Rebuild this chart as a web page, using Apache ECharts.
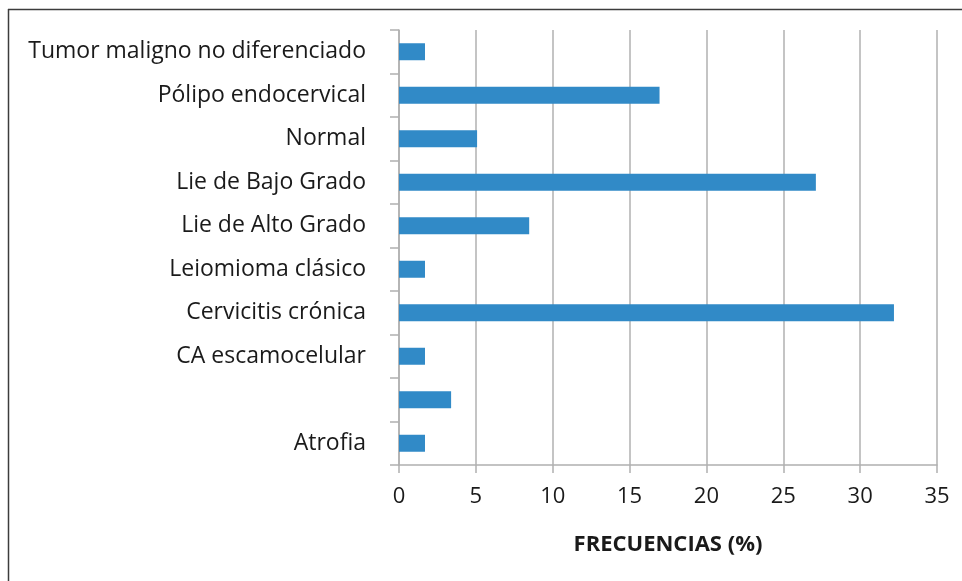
<!DOCTYPE html>
<html>
<head>
<meta charset="utf-8">
<script src="https://cdn.jsdelivr.net/npm/echarts@6/dist/echarts.min.js"></script>
<style>
  html, body { margin: 0; padding: 0; background: #fff; }
  #chart { width: 962px; height: 581px; }
</style>
</head>
<body>
<div id="chart"></div>
<script>
// categorías, de abajo hacia arriba
const categories = [
  'Atrofia',
  '',
  'CA escamocelular',
  'Cervicitis crónica',
  'Leiomioma clásico',
  'Lie de Alto Grado',
  'Lie de Bajo Grado',
  'Normal',
  'Pólipo endocervical',
  'Tumor maligno no diferenciado'
];
// frecuencias en %
const frecuencias = [1.69, 3.39, 1.69, 32.2, 1.69, 8.47, 27.12, 5.08, 16.95, 1.69];
const xTicks = { min: 0, max: 35, interval: 5 };

const chart = echarts.init(document.getElementById('chart'));

const option = {
  animation: false,
  grid: { left: 399, right: 25, top: 30, bottom: 116 },
  // marco del gráfico (arriba e izquierda)
  graphic: [
    { type: 'line', shape: { x1: 8, y1: 9.5, x2: 962, y2: 9.5 }, style: { stroke: '#3c3c3c', lineWidth: 1.5 } },
    { type: 'line', shape: { x1: 8.5, y1: 9, x2: 8.5, y2: 581 }, style: { stroke: '#3c3c3c', lineWidth: 1.5 } }
  ],
  xAxis: {
    type: 'value',
    min: xTicks.min,
    max: xTicks.max,
    interval: xTicks.interval,
    name: 'FRECUENCIAS (%)',
    nameLocation: 'middle',
    nameGap: 69,
    nameTextStyle: { fontFamily: 'Open Sans', fontSize: 22, fontWeight: 'bold', color: '#1a1a1a' },
    axisLine: { show: true, lineStyle: { color: '#b0b0b0', width: 1.5 } },
    axisTick: { show: true, length: 8, lineStyle: { color: '#b0b0b0', width: 1.5 } },
    axisLabel: { fontFamily: 'Open Sans', fontSize: 22, color: '#1a1a1a', margin: 21 },
    splitLine: { show: true, lineStyle: { color: '#b0b0b0', width: 1.5 } }
  },
  yAxis: {
    type: 'category',
    data: categories,
    axisLine: { show: true, lineStyle: { color: '#b0b0b0', width: 1.5 } },
    axisTick: { show: true, length: 9, lineStyle: { color: '#b0b0b0', width: 1.5 } },
    axisLabel: { fontFamily: 'Open Sans', fontSize: 23, color: '#1a1a1a', margin: 33 },
    splitLine: { show: false }
  },
  series: [
    {
      type: 'bar',
      data: frecuencias,
      barWidth: 17,
      itemStyle: { color: '#318ac7' }
    }
  ]
};

chart.setOption(option);
</script>
</body>
</html>
